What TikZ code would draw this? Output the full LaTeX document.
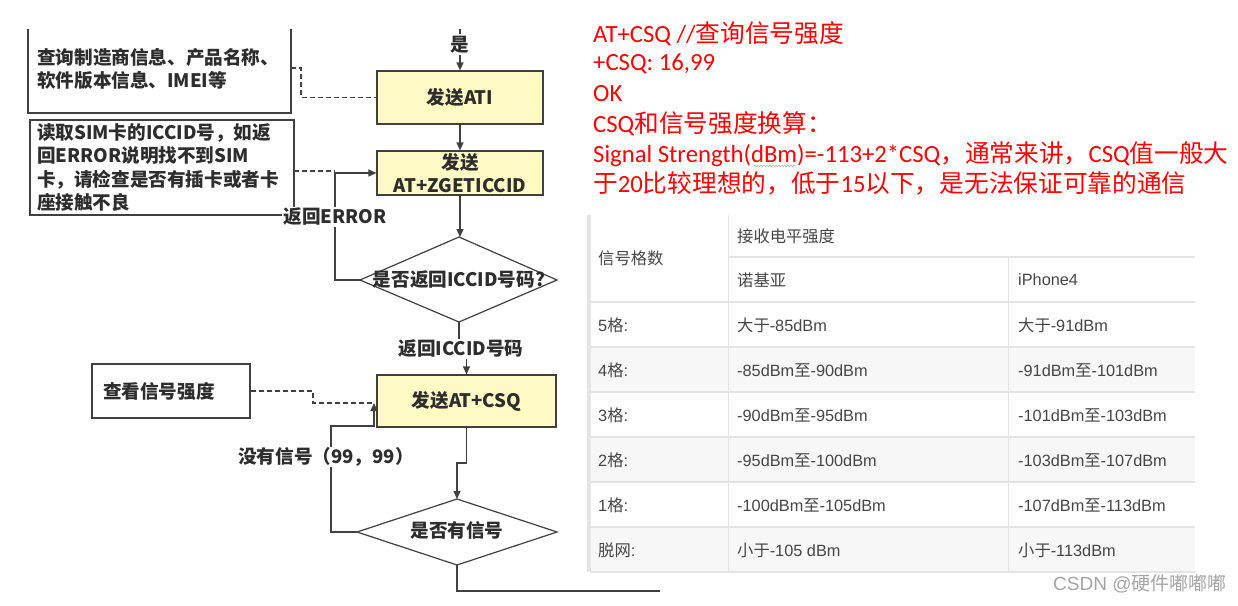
\documentclass[tikz,border=0pt]{standalone}
\usepackage{fontspec}
\usetikzlibrary{arrows.meta,decorations.pathmorphing}
\newfontfamily\cjk{Noto Sans CJK SC}
\newfontfamily\carl{Carlito}
\newfontfamily\arial{Liberation Sans}
\definecolor{boxfill}{RGB}{255,249,196}
\definecolor{edge}{RGB}{64,64,64}
\definecolor{ftxt}{RGB}{45,45,45}
\definecolor{redtxt}{RGB}{255,0,0}
\definecolor{tline}{RGB}{228,228,228}
\definecolor{tbg}{RGB}{247,247,247}
\definecolor{ttxt}{RGB}{70,70,70}
\definecolor{wm}{RGB}{165,165,165}
\newcommand\fcfont{\cjk\bfseries\fontsize{18.6}{23.3}\selectfont}
\tikzset{
  fbox/.style={draw=edge, line width=1.2pt, fill=boxfill, minimum width=166pt, minimum height=53pt, inner sep=0pt, font=\fcfont, text=ftxt, align=center},
  nbox/.style={draw=edge, line width=1.2pt, fill=white, inner ysep=0pt, font=\fcfont, text=ftxt, align=left},
  ln/.style={draw=edge, line width=1.2pt},
  arr/.style={draw=edge, line width=1.2pt, -{Triangle[length=8pt,width=7pt]}},
  dsh/.style={draw=edge, line width=1.2pt, dash pattern=on 5pt off 3pt},
  lbl/.style={fill=white, font=\fcfont, text=ftxt, inner sep=1pt},
  red/.style={anchor=west, inner sep=0pt, text=redtxt, font=\carl\fontsize{24.7}{28}\selectfont},
  cell/.style={anchor=west, inner sep=0pt, text=ttxt, font=\arial\fontsize{16.3}{18}\selectfont},
  tl/.style={draw=tline, line width=2pt}
}
\begin{document}
\begin{tikzpicture}[x=1pt,y=-1pt]
\useasboundingbox (0,0) rectangle (1238,605);
\fill[white] (0,0) rectangle (1238,605);

% ---------- table ----------
\fill[tbg] (591,347) rectangle (1195,392);
\fill[tbg] (591,437) rectangle (1195,482);
\fill[tbg] (591,527) rectangle (1195,572);
\fill[tline] (587,215) rectangle (591,572);
\draw[tl] (728,257) -- (1195,257);
\foreach \yy in {302,347,392,437,482,527,572} {\draw[tl] (591,\yy) -- (1195,\yy);}
\draw[draw=tline, line width=1pt] (728,215) -- (728,572);
\draw[draw=tline, line width=1pt] (1008,257) -- (1008,572);
\node[cell] (h1) at (737,236) {\cjk 接收电平强度};
\node[cell] (h0) at (598,258) {\cjk 信号格数};
\node[cell] (h2) at (737,280) {\cjk 诺基亚};
\node[cell] (h3) at (1018,280) {iPhone4};
\node[cell] (r1a) at (598,325) {5{\cjk 格}:};
\node[cell] (r1b) at (737,325) {{\cjk 大于}-85dBm};
\node[cell] (r1c) at (1018,325) {{\cjk 大于}-91dBm};
\node[cell] (r2a) at (598,370) {4{\cjk 格}:};
\node[cell] (r2b) at (737,370) {-85dBm{\cjk 至}-90dBm};
\node[cell] (r2c) at (1018,370) {-91dBm{\cjk 至}-101dBm};
\node[cell] (r3a) at (598,415) {3{\cjk 格}:};
\node[cell] (r3b) at (737,415) {-90dBm{\cjk 至}-95dBm};
\node[cell] (r3c) at (1018,415) {-101dBm{\cjk 至}-103dBm};
\node[cell] (r4a) at (598,460) {2{\cjk 格}:};
\node[cell] (r4b) at (737,460) {-95dBm{\cjk 至}-100dBm};
\node[cell] (r4c) at (1018,460) {-103dBm{\cjk 至}-107dBm};
\node[cell] (r5a) at (598,505) {1{\cjk 格}:};
\node[cell] (r5b) at (737,505) {-100dBm{\cjk 至}-105dBm};
\node[cell] (r5c) at (1018,505) {-107dBm{\cjk 至}-113dBm};
\node[cell] (r6a) at (598,550) {{\cjk 脱网}:};
\node[cell] (r6b) at (737,550) {{\cjk 小于}-105 dBm};
\node[cell] (r6c) at (1018,550) {{\cjk 小于}-113dBm};

% ---------- red notes ----------
\node[red] (t1) at (593,34) {AT+CSQ //{\cjk 查询信号强度}};
\node[red] (t2) at (593,64) {+CSQ: 16,99};
\node[red] (t3) at (593,94) {OK};
\node[red] (t4) at (593,124) {CSQ{\cjk 和信号强度换算：}};
\node[red] (t5) at (593,154) {Signal Strength(dBm)=-113+2*CSQ{\cjk ，通常来讲，}CSQ{\cjk 值一般大}};
\node[red] (t6) at (593,183) {{\cjk 于}20{\cjk 比较理想的，低于}15{\cjk 以下，是无法保证可靠的通信}};
\draw[gray!60, line width=0.6pt, decorate, decoration={snake, amplitude=0.8pt, segment length=3pt}] (754,166) -- (796,166);

\node[anchor=west, inner sep=0pt, text=wm, font=\arial\fontsize{19}{21}\selectfont] (wmk) at (1053,584) {CSDN @{\cjk 硬件嘟嘟嘟}};

% ---------- flowchart ----------
\draw[ln] (28,29) -- (28,113) -- (291,113) -- (291,29);
\node[anchor=west, inner sep=0pt, font=\fcfont, text=ftxt, align=left] (boxA) at (37,69) {查询制造商信息、产品名称、\\软件版本信息、IMEI等};
\coordinate (aE) at (291,68);

\node[fbox] (ati) at (460,97.5) {发送ATI};
\node[fbox, minimum height=44pt] (zg) at (460,173) {发送\\AT+ZGETICCID};
\node[fbox, minimum width=179pt, minimum height=52pt] (csq) at (466.5,401) {发送AT+CSQ};

\node[nbox, inner xsep=7pt, text width=250pt, minimum height=95pt] (boxB) at (162,167.5) {读取SIM卡的ICCID号，如返\\回ERROR说明找不到SIM\\卡，请检查是否有插卡或者卡\\座接触不良};
\node[nbox, inner xsep=11pt, text width=136pt, minimum height=54pt] (boxC) at (171,391) {查看信号强度};

% diamonds
\coordinate (d1w) at (360,280); \coordinate (d1t) at (459,237);
\coordinate (d1e) at (557,280); \coordinate (d1b) at (459,322);
\draw[ln, fill=white] (d1w) -- (d1t) -- (d1e) -- (d1b) -- cycle;
\node[font=\fcfont, text=ftxt, inner sep=0pt] (d1) at (459,280) {是否返回ICCID号码?};
\coordinate (d2w) at (357,532); \coordinate (d2t) at (457,499);
\coordinate (d2e) at (557,532); \coordinate (d2b) at (457,565);
\draw[ln, fill=white] (d2w) -- (d2t) -- (d2e) -- (d2b) -- cycle;
\node[font=\fcfont, text=ftxt, inner sep=0pt] (d2) at (457,530) {是否有信号};

% connectors
\coordinate (top) at (460,29);
\node[lbl] (yes) at (460,45) {是};
\draw[dsh] (top) -- (yes.north);
\draw[arr] (yes.south) -- (ati.north);
\draw[dsh] (aE) -| (301,97.5) -- (ati.west);
\draw[arr] (ati.south) -- (zg.north);

\coordinate (bE) at (294,171); \coordinate (bJ) at (335,171);
\draw[dsh] (bE) -- (bJ);
\draw[arr] (d1w) -- ++(-25,0) |- (zg.west);
\node[lbl] (err) at (335,217) {返回ERROR};
\draw[arr] (zg.south) -- (zg.south |- d1t);

\node[lbl] (ic) at (461,349) {返回ICCID号码};
\draw[ln] (d1b) -- (d1b |- ic.north);
\draw[arr] (ic.south -| csq.north) -- (csq.north);

\coordinate (cJ) at (313,403); \coordinate (cE) at (373,403);
\draw[dsh] (boxC.east) -| (cJ) -- (cE);
\coordinate (lp1) at (331,426); \coordinate (lp2) at (374,426); \coordinate (lp3) at (374,403);
\draw[arr] (d2w) -| (lp1) -- (lp2) -- (lp3);
\node[lbl] (nos) at (326,457) {没有信号（99，99）};

\coordinate (j2) at (457,463);
\draw[arr] (csq.south) |- (j2) -- (d2t);
\coordinate (endc) at (660,591);
\draw[ln] (d2b) |- (endc);
\end{tikzpicture}
\end{document}
